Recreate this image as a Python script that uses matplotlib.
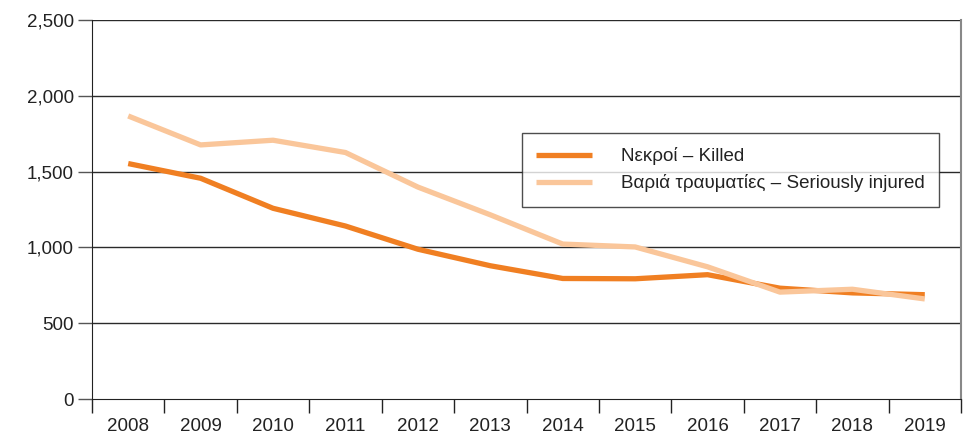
import numpy as np
import matplotlib.pyplot as plt
from matplotlib.ticker import FuncFormatter, FixedLocator

plt.rcParams['font.family'] = ['Liberation Sans', 'DejaVu Sans']

years = ['2008', '2009', '2010', '2011', '2012', '2013',
         '2014', '2015', '2016', '2017', '2018', '2019']
killed = [1553, 1456, 1258, 1141, 988, 879, 795, 793, 820, 731, 700, 688]
injured = [1867, 1676, 1707, 1626, 1398, 1215, 1022, 1003, 872, 705, 724, 660]
labels = ['Νεκροί – Killed', 'Βαριά τραυματίες – Seriously injured']
yticks = [0, 500, 1000, 1500, 2000, 2500]

fig = plt.figure(figsize=(9.66, 4.37), dpi=100)
ax = fig.add_axes([92 / 966, 1 - 399 / 437, (961 - 92) / 966, (399 - 20) / 437])

x = np.arange(len(years))
ax.plot(x, killed, color='#F07F22', lw=3.8, solid_capstyle='butt', label=labels[0], zorder=3)
ax.plot(x, injured, color='#FAC69A', lw=3.8, solid_capstyle='butt', label=labels[1], zorder=3)

ax.set_xlim(-0.5, len(years) - 0.5)
ax.set_ylim(0, 2500)

# gridlines
for v in yticks[1:]:
    ax.axhline(v, color='#2a2a2a', lw=1.0, zorder=1)

ax.set_yticks(yticks)
ax.yaxis.set_major_formatter(FuncFormatter(lambda v, p: f'{int(v):,}'))
ax.tick_params(axis='y', length=10, width=1, color='#555555', labelsize=13.5,
               labelcolor='#222222', pad=3)

# category axis: ticks between years, labels centered
ax.xaxis.set_major_locator(FixedLocator(np.arange(len(years) + 1) - 0.5))
ax.xaxis.set_major_formatter(FuncFormatter(lambda v, p: ''))
ax.xaxis.set_minor_locator(FixedLocator(x))
ax.set_xticklabels(years, minor=True)
ax.tick_params(axis='x', which='major', length=10, width=1, color='#222222')
ax.tick_params(axis='x', which='minor', length=0, labelsize=13.5,
               labelcolor='#222222', pad=14)

ax.spines['top'].set_visible(False)
ax.spines['right'].set_color('#888888')
ax.spines['right'].set_linewidth(1.5)
ax.spines['left'].set_color('#222222')
ax.spines['bottom'].set_color('#222222')

leg = ax.legend(loc='upper left', bbox_to_anchor=(522 / 966, 1 - 133 / 437),
                bbox_transform=fig.transFigure, fontsize=13.5, frameon=True,
                fancybox=False, edgecolor='#222222', handlelength=3.0,
                handletextpad=1.55, borderpad=0.75, labelspacing=0.5,
                borderaxespad=0)
leg.get_frame().set_linewidth(1.0)
for t in leg.get_texts():
    t.set_color('#222222')

fig.savefig('out.png', dpi=100)
